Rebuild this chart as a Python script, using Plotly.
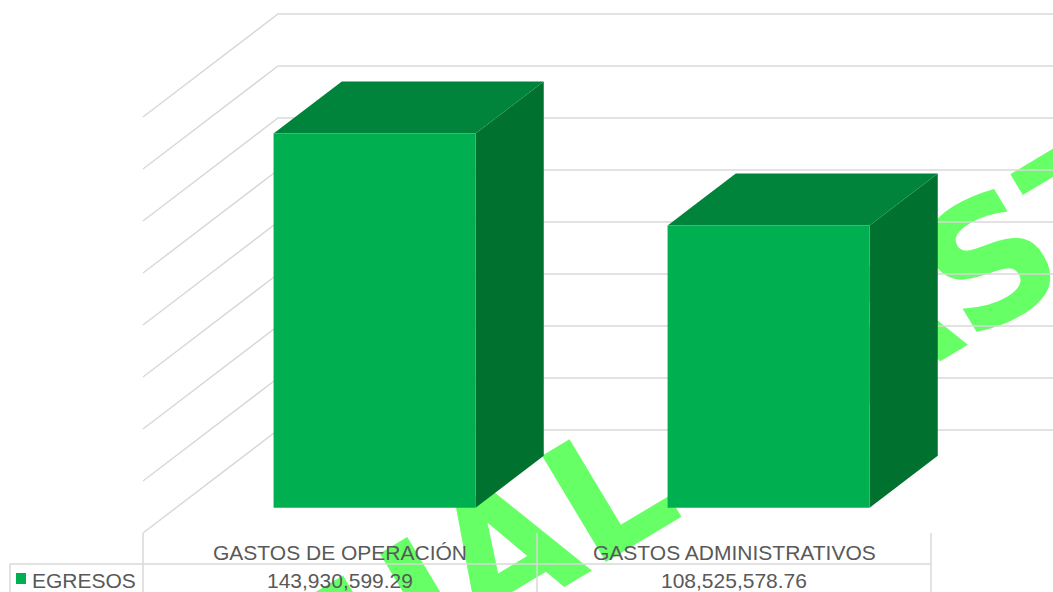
import plotly.graph_objects as go

# ---------------- data ----------------
categories = ["GASTOS DE OPERACIÓN", "GASTOS ADMINISTRATIVOS"]
series_name = "EGRESOS"
egresos = [143930599.29, 108525578.76]
grid_ticks = [0, 20e6, 40e6, 60e6, 80e6, 100e6, 120e6, 140e6, 160e6]
watermark_text = "ANUAL GASTOS"

# ---------------- geometry (oblique 3-D projection) ----------------
W, H = 1053, 592
PX_LEFT = 143            # front-left edge of the floor (pixels)
CAT_PX = 394             # pixels per category on the front plane
FLOOR_PY = 533           # pixel row of value 0 on the front plane
PX_PER_UNIT = 52 / 20e6  # vertical pixels per peso
DEPTH_PX = (67.5, 51.5)  # shift per depth unit (right, up) in pixels
WALL_DEPTH = 2.0
BAR_D0, BAR_D1 = 0.49, 1.5
BAR_HALF = 101 / CAT_PX
BAR_SHIFT = 1.5 / CAT_PX


def px_to_x(px):
    return -0.5 + (px - PX_LEFT) / CAT_PX


def py_to_y(py):
    return (FLOOR_PY - py) / PX_PER_UNIT


x_range = [px_to_x(0), px_to_x(W)]
y_range = [py_to_y(H), py_to_y(0)]
DX = DEPTH_PX[0] / CAT_PX
DY = DEPTH_PX[1] / PX_PER_UNIT


def proj(c, v, d):
    return c + d * DX, v + d * DY


GRID = "#D9D9D9"
TEXT = "#595959"
FRONT = "#00B050"
TOP = "#00843B"
SIDE = "#00712F"
WM = "#66FF66"

fig = go.Figure()

# watermark (drawn in the bar layer, beneath gridlines and bars)
wm_c, wm_v = px_to_x(736), py_to_y(415)
wm_font = dict(family="DejaVu Sans", size=170, color=WM, weight="bold")
fig.add_trace(go.Bar(
    x=[wm_c], y=[80e6], base=[wm_v - 40e6], width=[0.8],
    marker=dict(color="rgba(0,0,0,0)", line=dict(width=0)),
    text=[watermark_text], textposition="inside", insidetextanchor="middle",
    textangle=-31, constraintext="none", cliponaxis=False,
    insidetextfont=wm_font, textfont=wm_font,
    hoverinfo="skip", showlegend=False,
))

# walls: side-wall diagonals + back-wall horizontals
gx, gy = [], []
for t in grid_ticks:
    for (c, d) in [(-0.5, 0), (-0.5, WALL_DEPTH), (1.5, WALL_DEPTH)]:
        x, y = proj(c, t, d)
        gx.append(x)
        gy.append(y)
    gx.append(None)
    gy.append(None)
fig.add_trace(go.Scatter(x=gx, y=gy, mode="lines", line=dict(color=GRID, width=1.5),
                         hoverinfo="skip", showlegend=False))

# 3-D bars
for i, v in enumerate(egresos):
    x0, x1 = i - BAR_HALF + BAR_SHIFT, i + BAR_HALF + BAR_SHIFT
    faces = [
        (SIDE, [(x1, 0, BAR_D0), (x1, 0, BAR_D1), (x1, v, BAR_D1), (x1, v, BAR_D0)]),
        (TOP, [(x0, v, BAR_D0), (x1, v, BAR_D0), (x1, v, BAR_D1), (x0, v, BAR_D1)]),
        (FRONT, [(x0, 0, BAR_D0), (x1, 0, BAR_D0), (x1, v, BAR_D0), (x0, v, BAR_D0)]),
    ]
    for color, pts in faces:
        xs, ys = zip(*[proj(*p) for p in pts])
        fig.add_trace(go.Scatter(
            x=list(xs) + [xs[0]], y=list(ys) + [ys[0]], mode="lines",
            fill="toself", fillcolor=color, line=dict(width=0, color=color),
            name=series_name, hovertemplate=f"{categories[i]}<br>{v:,.2f}<extra></extra>",
            showlegend=False,
        ))

# ---------------- data table ----------------
shapes = []
row_y = py_to_y(564)
leg_left = px_to_x(10)
for c in [-0.5, 0.5, 1.5]:
    shapes.append(dict(type="line", xref="x", yref="y", x0=c, x1=c, y0=0, y1=y_range[0],
                       line=dict(color=GRID, width=1.5), layer="above"))
shapes.append(dict(type="line", xref="x", yref="y", x0=leg_left, x1=1.5, y0=row_y, y1=row_y,
                   line=dict(color=GRID, width=1.5), layer="above"))
shapes.append(dict(type="line", xref="x", yref="y", x0=leg_left, x1=leg_left, y0=row_y,
                   y1=y_range[0], line=dict(color=GRID, width=1.5), layer="above"))
shapes.append(dict(type="rect", xref="x", yref="y", x0=px_to_x(16), x1=px_to_x(26),
                   y0=py_to_y(584), y1=py_to_y(573), fillcolor=FRONT,
                   line=dict(width=0), layer="above"))

font = dict(family="Liberation Sans, Arial, sans-serif", size=21, color=TEXT)
annotations = []
for i, (cat, v) in enumerate(zip(categories, egresos)):
    annotations.append(dict(x=i, y=py_to_y(552), xref="x", yref="y", text=cat,
                            showarrow=False, font=font, xanchor="center", yanchor="middle"))
    annotations.append(dict(x=i, y=py_to_y(580), xref="x", yref="y", text=f"{v:,.2f}",
                            showarrow=False, font=font, xanchor="center", yanchor="middle"))
annotations.append(dict(x=px_to_x(30), y=py_to_y(580), xref="x", yref="y", text=series_name,
                        showarrow=False, font=font, xanchor="left", yanchor="middle"))

fig.update_layout(
    width=W, height=H, autosize=False,
    margin=dict(l=0, r=0, t=0, b=0, pad=0),
    paper_bgcolor="white", plot_bgcolor="white",
    showlegend=False, barmode="overlay",
    xaxis=dict(range=x_range, visible=False, fixedrange=True),
    yaxis=dict(range=y_range, visible=False, fixedrange=True),
    shapes=shapes, annotations=annotations,
)

fig.write_html("out.html")
